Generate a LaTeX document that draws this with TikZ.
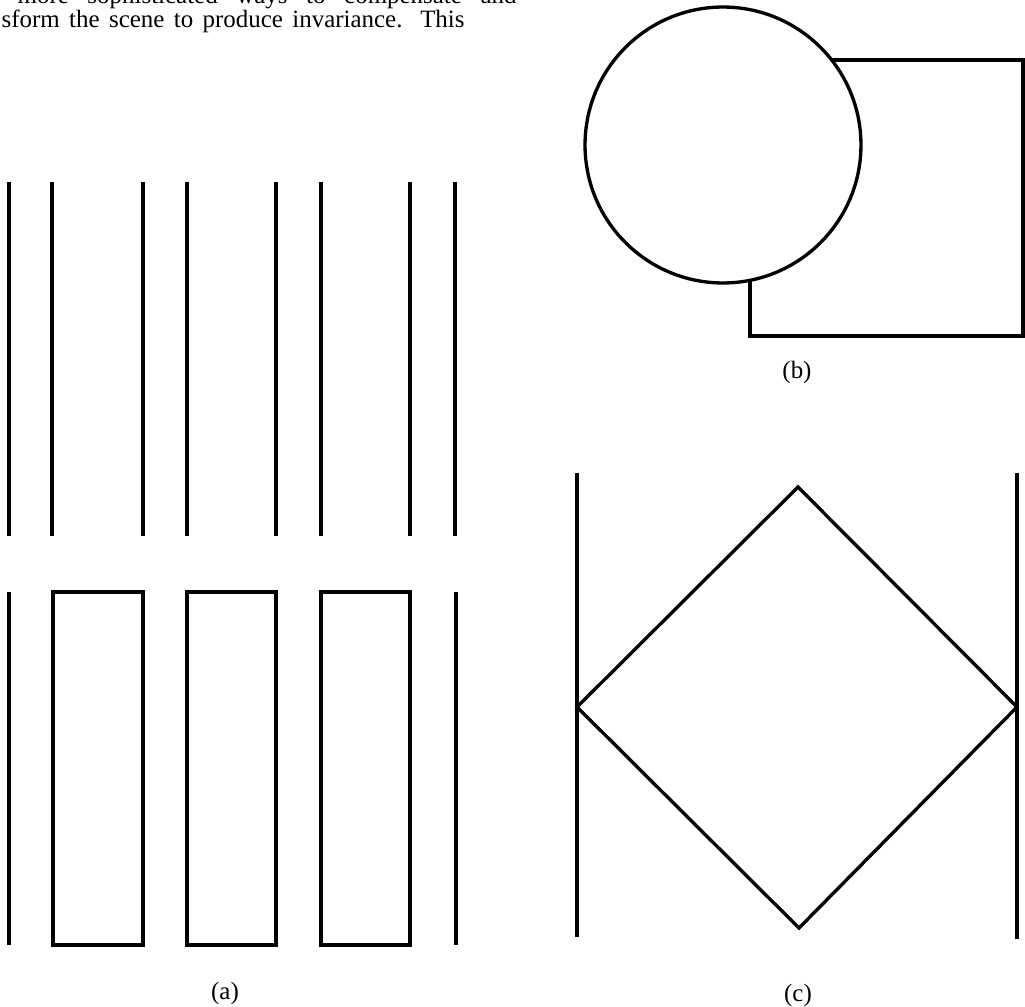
\documentclass[tikz,border=0pt]{standalone}
\usepackage{fontspec}
\setmainfont{Liberation Serif}
\usepackage{tikz}

\begin{document}
\begin{tikzpicture}[x=0.02cm,y=-0.02cm,line width=1.9pt]
		\useasboundingbox (0,0) rectangle (1025,1007);
		\clip (0,0) rectangle (1025,1007);
		\node[anchor=base west, inner sep=0pt, font=\fontsize{14.2}{17}\selectfont] (lineone) at (16,4) {\makebox[9.98cm][s]{more sophisticated ways to compensate and}};
		\node[anchor=base west, inner sep=0pt, font=\fontsize{14.2}{17}\selectfont] (linetwo) at (0,28) {\makebox[9.26cm][s]{sform the scene to produce invariance. This}};
		\draw(9,182) -- (9,536);
		\draw(52,182) -- (52,536);
		\draw(143,182) -- (143,536);
		\draw(187,182) -- (187,536);
		\draw(276,182) -- (276,536);
		\draw(321,182) -- (321,536);
		\draw(410,182) -- (410,536);
		\draw(455,182) -- (455,536);
		\draw(9,592) -- (9,945);
		\draw(53,592) rectangle (143,945);
		\draw(187,592) rectangle (276,945);
		\draw(321,592) rectangle (410,945);
		\draw(456,592) -- (456,945);
		\node[font=\fontsize{14.2}{17}\selectfont] (capa) at (225,993) {(a)};
		\draw(750,60) rectangle (1023,336);
		\draw[color=black, fill=white](723,145) circle[radius=2.76cm];
		\node[font=\fontsize{14.2}{17}\selectfont] (capb) at (797,372) {(b)};
		\draw(577,473) -- (577,937);
		\draw(1017,473) -- (1017,939);
		\draw[line join=miter](798,487) -- (1017,707) -- (799,928) -- (577,707) -- cycle;
		\node[font=\fontsize{14.2}{17}\selectfont] (capc) at (798,995) {(c)};
	\end{tikzpicture}
\end{document}
